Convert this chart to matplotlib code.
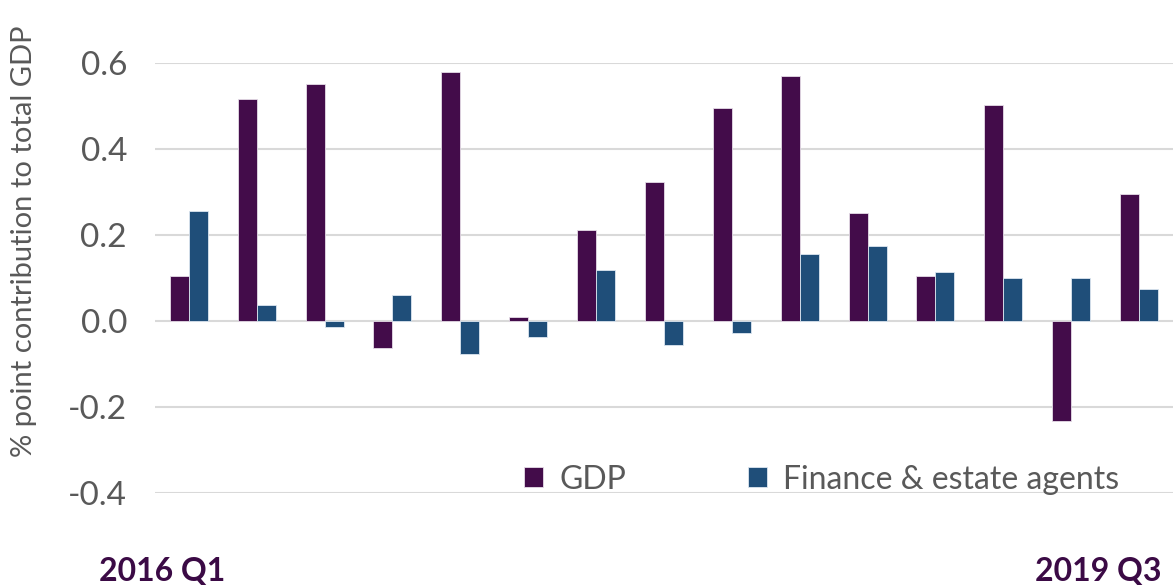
import matplotlib.pyplot as plt
import numpy as np

plt.rcParams['font.family'] = ['Lato', 'DejaVu Sans']

quarters = ['2016 Q1', '2016 Q2', '2016 Q3', '2016 Q4',
            '2017 Q1', '2017 Q2', '2017 Q3', '2017 Q4',
            '2018 Q1', '2018 Q2', '2018 Q3', '2018 Q4',
            '2019 Q1', '2019 Q2', '2019 Q3']
gdp = [0.105, 0.516, 0.551, -0.063, 0.579, 0.009, 0.212, 0.323,
       0.495, 0.570, 0.251, 0.105, 0.502, -0.233, 0.295]
finance = [0.256, 0.037, -0.014, 0.060, -0.077, -0.037, 0.119, -0.056,
           -0.028, 0.156, 0.174, 0.114, 0.100, 0.100, 0.074]

purple = '#430C4A'
blue = '#1F4E79'
grey = '#595959'

fig = plt.figure(figsize=(11.73, 5.85), dpi=100)
ax = fig.add_axes([0.132, 0.157, 0.868, 0.735])

x = np.arange(len(quarters))
w = 0.28
ax.bar(x - w / 2, gdp, w, color=purple, edgecolor='#E6DDE8', linewidth=0.6, label='GDP', zorder=3)
ax.bar(x + w / 2, finance, w, color=blue, edgecolor='#DCE6F0', linewidth=0.6,
       label='Finance & estate agents', zorder=3)

ax.set_xlim(-0.5, len(quarters) - 0.5)
ax.set_ylim(-0.4, 0.6)
ax.set_yticks([-0.4, -0.2, 0.0, 0.2, 0.4, 0.6])
ax.set_yticklabels(['-0.4', '-0.2', '0.0', '0.2', '0.4', '0.6'])
ax.set_xticks([])
ax.tick_params(axis='y', length=0, labelsize=24, labelcolor=grey, pad=20)
ax.grid(axis='y', color='#D9D9D9', linewidth=1.5, zorder=0)
ax.set_axisbelow(True)
for s in ax.spines.values():
    s.set_visible(False)

ax.set_ylabel('% point contribution to total GDP', fontsize=21, color=grey)
ax.yaxis.set_label_coords(-0.116, 0.585)

ax.legend(loc='lower right', bbox_to_anchor=(0.975, -0.07), ncol=2, frameon=False,
          fontsize=23, labelcolor=grey, handlelength=0.6, handleheight=0.6,
          columnspacing=3.8, handletextpad=0.5)

fig.text(0.138, 0.008, quarters[0], fontsize=23, fontweight='bold', color='#3B0A45', ha='center')
fig.text(0.99, 0.008, quarters[-1], fontsize=23, fontweight='bold', color='#3B0A45', ha='right')

fig.savefig('out.png', dpi=100)
